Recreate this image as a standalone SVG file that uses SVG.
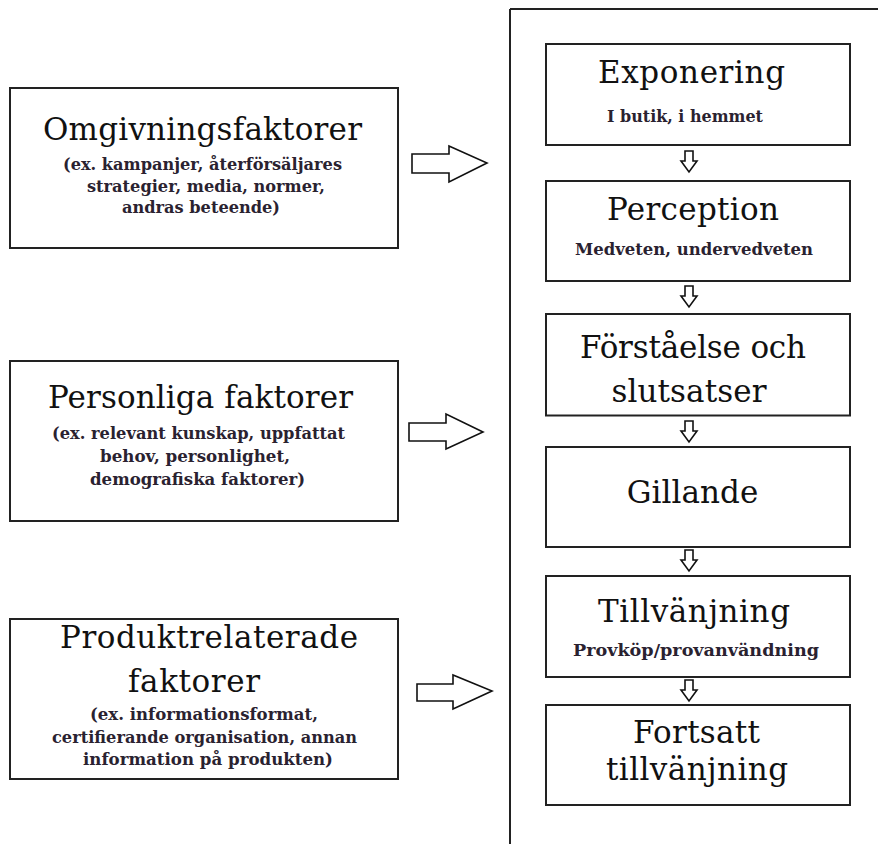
<svg xmlns="http://www.w3.org/2000/svg" width="878" height="844" viewBox="0 0 878 844">
<defs>
<style>
.box{fill:#fff;stroke:#222;stroke-width:2}
.arr{fill:#fff;stroke:#111;stroke-width:1.6;stroke-linejoin:miter}
.t{font-family:"DejaVu Serif","Liberation Serif",serif;font-size:31px;fill:#111;text-anchor:middle}
.s{font-family:"DejaVu Serif","Liberation Serif",serif;font-size:17px;font-weight:bold;fill:#2a2230;text-anchor:middle}
</style>
</defs>
<rect width="878" height="844" fill="#fff"/>
<g id="container">
<path d="M510 9 H880 M510 9 V846" fill="none" stroke="#222" stroke-width="2"/>
</g>
<g id="omgivning">
<rect class="box" x="10" y="88" width="388" height="160"/>
<text class="t" x="202.5" y="140" textLength="319">Omgivningsfaktorer</text>
<text class="s" x="202.5" y="170" textLength="279" lengthAdjust="spacingAndGlyphs">(ex. kampanjer, återförsäljares</text>
<text class="s" x="206" y="191.5" textLength="238" lengthAdjust="spacingAndGlyphs">strategier, media, normer,</text>
<text class="s" x="201" y="213" textLength="158" lengthAdjust="spacingAndGlyphs">andras beteende)</text>
</g>
<g id="personliga">
<rect class="box" x="10" y="361" width="388" height="160"/>
<text class="t" x="200.5" y="408" textLength="305">Personliga faktorer</text>
<text class="s" x="198.5" y="439" textLength="293" lengthAdjust="spacingAndGlyphs">(ex. relevant kunskap, uppfattat</text>
<text class="s" x="195" y="462" textLength="190" lengthAdjust="spacingAndGlyphs">behov, personlighet,</text>
<text class="s" x="197.5" y="485" textLength="215" lengthAdjust="spacingAndGlyphs">demografiska faktorer)</text>
</g>
<g id="produkt">
<rect class="box" x="10" y="619" width="388" height="160"/>
<text class="t" x="209" y="648" textLength="298">Produktrelaterade</text>
<text class="t" x="194" y="692" textLength="132">faktorer</text>
<text class="s" x="204" y="720" textLength="228" lengthAdjust="spacingAndGlyphs">(ex. informationsformat,</text>
<text class="s" x="204.5" y="742.7" textLength="305" lengthAdjust="spacingAndGlyphs">certifierande organisation, annan</text>
<text class="s" x="208" y="765" textLength="250" lengthAdjust="spacingAndGlyphs">information på produkten)</text>
</g>
<g id="exponering">
<rect class="box" x="546" y="44" width="304" height="101"/>
<text class="t" x="691.5" y="83" textLength="187">Exponering</text>
<text class="s" x="685" y="121.5" textLength="156" lengthAdjust="spacingAndGlyphs">I butik, i hemmet</text>
</g>
<g id="perception">
<rect class="box" x="546" y="181" width="304" height="100"/>
<text class="t" x="693" y="220" textLength="172">Perception</text>
<text class="s" x="694" y="255" textLength="238" lengthAdjust="spacingAndGlyphs">Medveten, undervedveten</text>
</g>
<g id="forstaelse">
<rect class="box" x="546" y="314" width="304" height="101.5"/>
<text class="t" x="693" y="358" textLength="226">Förståelse och</text>
<text class="t" x="689" y="401.5" textLength="155">slutsatser</text>
</g>
<g id="gillande">
<rect class="box" x="546" y="447" width="304" height="100"/>
<text class="t" x="692.5" y="502.7" textLength="131.5">Gillande</text>
</g>
<g id="tillvanjning">
<rect class="box" x="546" y="576" width="304" height="101"/>
<text class="t" x="694" y="621.7" textLength="192">Tillvänjning</text>
<text class="s" x="696" y="656" textLength="246" lengthAdjust="spacingAndGlyphs">Provköp/provanvändning</text>
</g>
<g id="fortsatt">
<rect class="box" x="546" y="705" width="304" height="100"/>
<text class="t" x="696.5" y="743" textLength="127">Fortsatt</text>
<text class="t" x="697" y="780" textLength="182">tillvänjning</text>
</g>
<g id="connectors">
<polygon class="arr" points="412,154 449,154 449,146 487,163 449,182 449,173 412,173"/>
<polygon class="arr" points="409,423 446,423 446,414 483,432 446,449 446,441 409,441"/>
<polygon class="arr" points="417,684 453,684 453,675 492,691 453,709 453,701 417,701"/>
<polygon class="arr" points="685,151 693,151 693,161 697,161 689,172 681,161 685,161"/>
<polygon class="arr" points="685,286 693,286 693,296 697,296 689,307 681,296 685,296"/>
<polygon class="arr" points="685,421 693,421 693,431 697,431 689,442 681,431 685,431"/>
<polygon class="arr" points="685,550 693,550 693,560 697,560 689,571 681,560 685,560"/>
<polygon class="arr" points="685,680 693,680 693,690 697,690 689,701 681,690 685,690"/>
</g>
</svg>
